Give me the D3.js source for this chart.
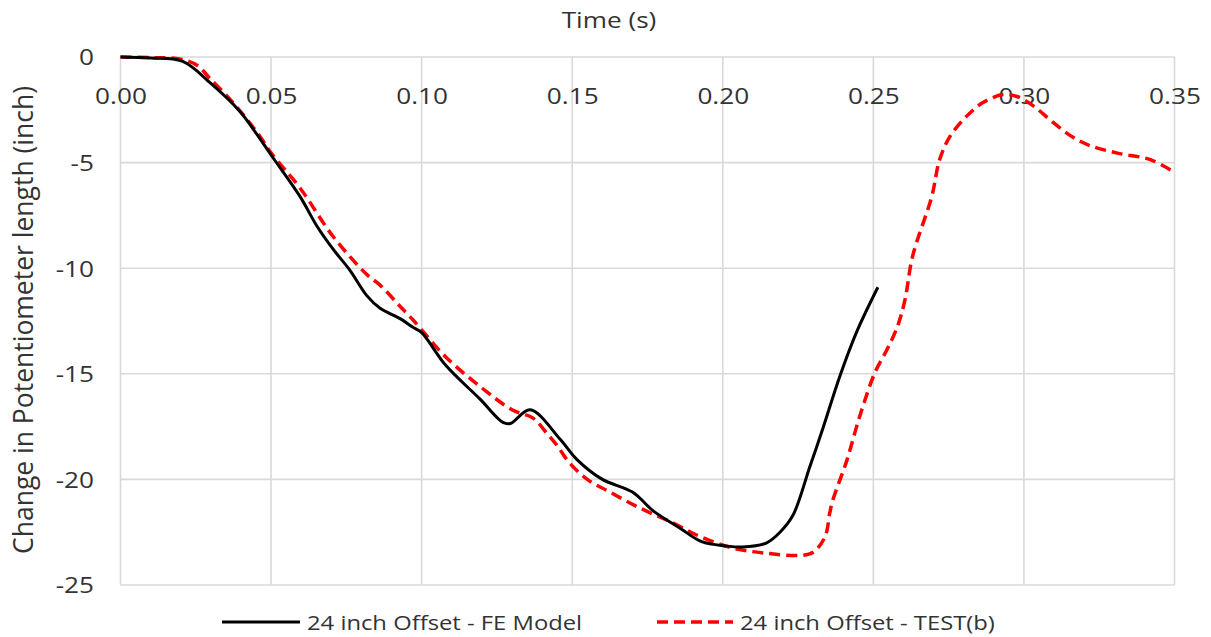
<!DOCTYPE html>
<html>
<head>
<meta charset="utf-8">
<script src="https://cdn.jsdelivr.net/npm/d3@7"></script>
<style>
  html, body { margin: 0; padding: 0; background: #fff; }
  svg { display: block; }
  text { font-family: "Open Sans", "Noto Sans", sans-serif; fill: #333333; }
</style>
</head>
<body>
<svg id="chart" width="1211" height="637"></svg>
<script>
// Axis ticks
const xTicks = [0, 0.05, 0.10, 0.15, 0.20, 0.25, 0.30, 0.35];
const yTicks = [0, -5, -10, -15, -20, -25];

// Series names
const seriesNames = ["24 inch Offset - FE Model", "24 inch Offset - TEST(b)"];

// FE model: time (s) and change in potentiometer length (inch)
const feTime = [0, 0.01, 0.0205, 0.03, 0.0398, 0.044, 0.0503, 0.0596, 0.0652, 0.0706,
  0.0762, 0.0818, 0.0862, 0.093, 0.0971, 0.1, 0.108, 0.1194, 0.127, 0.1295,
  0.136, 0.146, 0.1515, 0.16, 0.17, 0.177, 0.1857, 0.193, 0.201, 0.2066,
  0.2146, 0.219, 0.2233, 0.2289, 0.2332, 0.2389, 0.2445, 0.2515];
const feValue = [0, -0.05, -0.2, -1.25, -2.6, -3.4, -4.7, -6.6, -8.0, -9.1,
  -10.1, -11.3, -11.9, -12.4, -12.8, -13.05, -14.6, -16.2, -17.3, -17.35,
  -16.7, -18.1, -19.05, -20.0, -20.6, -21.5, -22.3, -22.95, -23.15, -23.2,
  -23.0, -22.5, -21.7, -19.4, -17.6, -15.1, -13.0, -10.9];

// Test (b): time (s) and change in potentiometer length (inch)
const testTime = [0, 0.01, 0.02, 0.0255, 0.0296, 0.037, 0.046, 0.0503, 0.0596, 0.0706,
  0.0818, 0.0862, 0.0928, 0.0971, 0.108, 0.1194, 0.13, 0.137, 0.1415, 0.145,
  0.149, 0.155, 0.1625, 0.1724, 0.1834, 0.1924, 0.2033, 0.2146, 0.2256, 0.23,
  0.234, 0.2355, 0.2365, 0.2412, 0.2455, 0.2505, 0.2545, 0.258, 0.2605, 0.263,
  0.2694, 0.272, 0.2754, 0.281, 0.2864, 0.293, 0.2977, 0.303, 0.3097, 0.3163,
  0.322, 0.331, 0.342, 0.35];
const testValue = [0, -0.03, -0.1, -0.4, -1.0, -2.1, -3.7, -4.6, -6.2, -8.5,
  -10.3, -10.8, -11.8, -12.44, -14.2, -15.6, -16.7, -17.1, -17.8, -18.4,
  -19.2, -20.0, -20.6, -21.35, -22.06, -22.7, -23.25, -23.5, -23.6, -23.45,
  -22.7, -21.6, -21.0, -19.1, -17.0, -14.95, -13.86, -12.76, -11.5, -9.45,
  -6.6, -4.86, -3.77, -2.8, -2.16, -1.78, -1.87, -2.3, -3.1, -3.8,
  -4.2, -4.55, -4.86, -5.47];

const svg = d3.select("#chart");
const plot = { left: 120.5, right: 1174.5, top: 57, bottom: 585 };
const SX = 1.19; // horizontal widening of the lettering

const x = d3.scaleLinear().domain([0, 0.35]).range([plot.left, plot.right]);
const y = d3.scaleLinear().domain([-25, 0]).range([plot.bottom, plot.top]);

// Grid
const grid = svg.append("g").attr("stroke", "#d9d9d9").attr("stroke-width", 1.6);
grid.selectAll("line.v").data(xTicks).join("line")
  .attr("class", "v")
  .attr("x1", d => x(d)).attr("x2", d => x(d))
  .attr("y1", plot.top).attr("y2", plot.bottom);
grid.selectAll("line.h").data(yTicks).join("line")
  .attr("class", "h")
  .attr("x1", plot.left).attr("x2", plot.right)
  .attr("y1", d => y(d)).attr("y2", d => y(d));

// X axis labels sit just under the zero line
const xAxis = svg.append("g")
  .attr("transform", `translate(0,${y(0)})`)
  .call(d3.axisBottom(x).tickValues(xTicks).tickFormat(d => d.toFixed(2)).tickSize(0));
xAxis.select(".domain").remove();
xAxis.selectAll("text")
  .attr("y", 47).attr("dy", 0)
  .attr("transform", `scale(${SX},1)`)
  .style("font-size", "22px").attr("fill", "#333333");

// Y axis labels (plain hyphen for negatives)
const yAxis = svg.append("g")
  .attr("transform", `translate(${plot.left},0)`)
  .call(d3.axisLeft(y).tickValues(yTicks).tickFormat(d => String(d)).tickSize(0));
yAxis.select(".domain").remove();
yAxis.selectAll("text")
  .attr("x", -26.5 / SX).attr("dy", "0.36em")
  .attr("transform", `scale(${SX},1)`)
  .style("font-size", "22px").attr("fill", "#333333");

// Axis titles
svg.append("text")
  .attr("transform", `translate(609,28) scale(${SX},1)`)
  .attr("text-anchor", "middle")
  .style("font-size", "22px")
  .text("Time (s)");

svg.append("text")
  .attr("transform", "translate(33,320) rotate(-90) scale(1,1.06)")
  .attr("text-anchor", "middle")
  .style("font-size", "26.5px")
  .text("Change in Potentiometer length (inch)");

// Series lines
const line = d3.line()
  .x(d => x(d[0])).y(d => y(d[1]))
  .curve(d3.curveCatmullRom.alpha(0.5));

const feData = feTime.map((t, i) => [t, feValue[i]]);
const testData = testTime.map((t, i) => [t, testValue[i]]);

svg.append("path").datum(testData)
  .attr("fill", "none").attr("stroke", "#ff0000")
  .attr("stroke-width", 3.5).attr("stroke-dasharray", "11,6")
  .attr("d", line);

svg.append("path").datum(feData)
  .attr("fill", "none").attr("stroke", "#000000")
  .attr("stroke-width", 3).attr("stroke-linejoin", "round")
  .attr("d", line);

// Legend
const legendItems = [
  { name: seriesNames[0], color: "#000000", dash: null, x0: 222, x1: 300, tx: 307 },
  { name: seriesNames[1], color: "#ff0000", dash: "11,6", x0: 657, x1: 733, tx: 740 }
];
const legend = svg.append("g");
legendItems.forEach(item => {
  legend.append("line")
    .attr("x1", item.x0).attr("x2", item.x1)
    .attr("y1", 622).attr("y2", 622)
    .attr("stroke", item.color).attr("stroke-width", item.dash ? 3.5 : 3)
    .attr("stroke-dasharray", item.dash);
  legend.append("text")
    .attr("transform", `translate(${item.tx},630) scale(${SX},1)`)
    .style("font-size", "20px")
    .text(item.name);
});
</script>
</body>
</html>
